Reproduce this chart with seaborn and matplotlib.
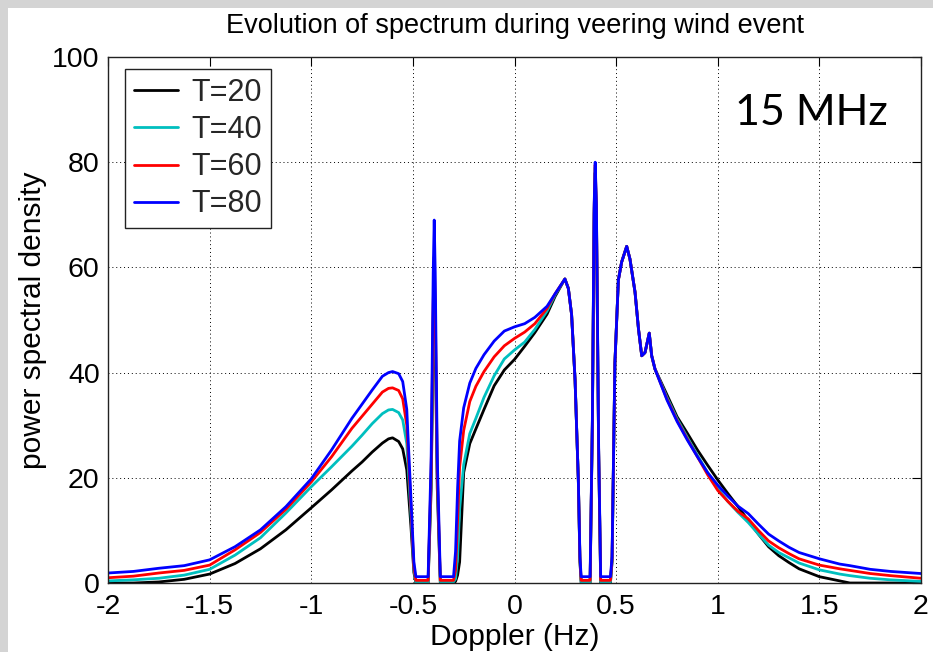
import matplotlib
matplotlib.use("Agg")
import matplotlib.pyplot as plt
from matplotlib.patches import Rectangle
from matplotlib.lines import Line2D
import numpy as np
import pandas as pd
import seaborn as sns

# ---------------- data ----------------
doppler = [-2.0, -1.875, -1.75, -1.625, -1.5, -1.375, -1.25, -1.125, -1.0, -0.9,
           -0.8, -0.75, -0.7, -0.65, -0.62, -0.6, -0.57, -0.55, -0.53, -0.51,
           -0.495, -0.485,
           -0.425, -0.41, -0.40, -0.395, -0.39, -0.38, -0.365, -0.30, -0.29, -0.28,
           -0.27, -0.25, -0.22, -0.19, -0.15, -0.10, -0.05, 0.0, 0.05, 0.10,
           0.16, 0.20, 0.248, 0.265, 0.281, 0.298, 0.314, 0.322, 0.328, 0.372,
           0.383, 0.392, 0.397, 0.403, 0.414, 0.424, 0.472, 0.480, 0.494, 0.511,
           0.527, 0.552, 0.568, 0.593, 0.610, 0.626, 0.642, 0.663, 0.675, 0.691,
           0.75, 0.8, 0.85, 0.9, 0.95, 1.0, 1.05, 1.1, 1.15, 1.2,
           1.25, 1.3, 1.35, 1.4, 1.5, 1.6, 1.65, 1.75, 1.85, 2.0]

psd_T20 = [0.0, 0.0, 0.2, 0.7, 1.7, 3.7, 6.5, 10.1, 14.3, 17.7,
           21.3, 23.0, 24.9, 26.6, 27.4, 27.6, 26.9, 25.5, 21.5, 11.0,
           2.0, 0.0,
           0.0, 18.0, 46.0, 54.0, 46.0, 18.0, 0.0, 0.0, 0.3, 1.5,
           4.0, 21.0, 26.5, 29.3, 33.0, 37.5, 40.5, 42.5, 45.0, 47.6,
           51.1, 54.5, 57.8, 56.0, 51.0, 38.6, 19.6, 4.0, 0.0, 0.0,
           30.0, 70.0, 78.0, 70.0, 25.0, 0.0, 0.0, 4.0, 41.8, 57.6,
           61.0, 64.0, 61.6, 55.3, 48.3, 43.2, 43.8, 47.5, 43.2, 40.7,
           35.8, 31.6, 28.5, 25.3, 22.4, 19.6, 17.0, 14.5, 11.9, 9.3,
           6.9, 5.2, 3.9, 2.7, 1.2, 0.4, 0.0, 0.0, 0.0, 0.0]

psd_T40 = [0.4, 0.6, 0.9, 1.5, 2.6, 5.3, 8.6, 13.3, 18.3, 22.1,
           26.0, 28.1, 30.3, 32.2, 32.9, 33.0, 32.4, 31.0, 26.5, 13.5,
           2.5, 0.2,
           0.2, 20.0, 50.0, 59.0, 50.0, 20.0, 0.2, 0.2, 0.8, 5.0,
           14.0, 22.5, 28.4, 31.3, 35.3, 39.4, 42.6, 44.3, 45.8, 48.2,
           51.7, 54.8, 57.8, 56.0, 51.0, 38.6, 19.6, 4.2, 0.2, 0.2,
           30.0, 71.0, 79.0, 71.0, 25.0, 0.2, 0.2, 4.2, 41.8, 57.6,
           61.0, 64.0, 61.6, 55.3, 48.3, 43.2, 43.8, 47.5, 43.2, 40.7,
           35.3, 31.2, 27.7, 24.3, 21.0, 18.0, 15.5, 13.4, 11.5, 9.3,
           7.2, 5.8, 4.8, 3.8, 2.5, 1.7, 1.4, 0.9, 0.6, 0.3]

psd_T60 = [1.0, 1.3, 1.9, 2.4, 3.4, 6.3, 9.6, 14.0, 19.2, 24.0,
           29.4, 31.7, 34.0, 36.3, 37.0, 37.1, 36.6, 35.0, 30.0, 15.0,
           3.0, 0.5,
           0.5, 21.0, 53.0, 62.0, 53.0, 21.0, 0.5, 0.5, 2.5, 12.0,
           22.0, 29.0, 34.5, 37.4, 40.2, 43.0, 45.1, 46.5, 47.7, 49.3,
           52.2, 55.0, 57.8, 56.0, 51.0, 38.6, 19.6, 4.5, 0.5, 0.5,
           30.0, 71.5, 79.5, 71.5, 25.0, 0.5, 0.5, 4.5, 41.8, 57.6,
           61.0, 64.0, 61.6, 55.3, 48.3, 43.2, 43.8, 47.5, 43.2, 40.7,
           35.0, 30.9, 27.4, 24.0, 20.6, 17.6, 15.5, 13.6, 12.2, 10.0,
           8.0, 6.7, 5.6, 4.6, 3.4, 2.7, 2.4, 1.8, 1.4, 0.9]

psd_T80 = [1.9, 2.2, 2.8, 3.3, 4.4, 6.9, 10.1, 14.5, 19.8, 25.3,
           31.3, 34.0, 36.7, 39.3, 40.0, 40.2, 39.8, 38.3, 33.0, 16.5,
           4.0, 1.2,
           1.2, 24.0, 59.0, 69.0, 59.0, 24.0, 1.2, 1.2, 6.0, 18.0,
           27.0, 33.3, 38.0, 40.8, 43.4, 46.0, 47.9, 48.7, 49.3, 50.5,
           52.6, 55.0, 57.8, 56.0, 51.0, 38.6, 19.6, 5.0, 1.2, 1.2,
           31.0, 72.0, 80.0, 72.0, 26.0, 1.2, 1.2, 5.0, 41.8, 57.6,
           61.0, 64.0, 61.6, 55.3, 48.3, 43.2, 43.8, 47.5, 43.2, 40.7,
           34.8, 30.7, 27.2, 24.0, 21.0, 18.6, 16.5, 14.6, 13.2, 11.2,
           9.3, 8.0, 6.8, 5.8, 4.6, 3.6, 3.3, 2.6, 2.2, 1.8]

series_names = ["T=20", "T=40", "T=60", "T=80"]
series_colors = ["#000000", "#00BFBF", "#FF0000", "#0000FF"]
x_ticks = [-2, -1.5, -1, -0.5, 0, 0.5, 1, 1.5, 2]
x_tick_labels = ["-2", "-1.5", "-1", "-0.5", "0", "0.5", "1", "1.5", "2"]
y_ticks = [0, 20, 40, 60, 80, 100]
y_tick_labels = ["0", "20", "40", "60", "80", "100"]

# ---------------- styling ----------------
sns.set_style("white")
plt.rcParams["font.family"] = ["Liberation Sans", "DejaVu Sans"]
plt.rcParams["axes.unicode_minus"] = False

W, H = 933, 652
fig = plt.figure(figsize=(W / 100, H / 100), dpi=100)
fig.patch.set_facecolor("white")

# grey screenshot frame (top and left)
frame_col = "#d4d4d4"
fig.add_artist(Rectangle((0, 1 - 8 / H), 1, 8 / H, transform=fig.transFigure,
                         facecolor=frame_col, edgecolor="none", zorder=-5))
fig.add_artist(Rectangle((0, 0), 8 / W, 1, transform=fig.transFigure,
                         facecolor=frame_col, edgecolor="none", zorder=-5))

ax = fig.add_axes([108 / W, (H - 583) / H, 813 / W, 526 / H])

all_series = [psd_T20, psd_T40, psd_T60, psd_T80]
df = pd.concat(
    [pd.DataFrame({"Doppler": doppler, "psd": vals, "series": name})
     for name, vals in zip(series_names, all_series)],
    ignore_index=True)

sns.lineplot(data=df, x="Doppler", y="psd", hue="series",
             hue_order=series_names, palette=dict(zip(series_names, series_colors)),
             estimator=None, sort=False, linewidth=2.0, ax=ax, legend=False)

ax.set_xlim(-2, 2)
ax.set_ylim(0, 100)
ax.set_xticks(x_ticks)
ax.set_xticklabels(x_tick_labels)
ax.set_yticks(y_ticks)
ax.set_yticklabels(y_tick_labels)

ax.set_axisbelow(True)
ax.grid(True, color="k", linestyle=(0, (1, 3)), linewidth=0.7)

ax.tick_params(axis="both", direction="in", length=6.5, width=0.8,
               top=True, right=True, labelsize=20.5, colors="k")
ax.tick_params(axis="x", pad=8)
ax.tick_params(axis="y", pad=6)
for s in ax.spines.values():
    s.set_linewidth(1.0)
    s.set_color("#222222")

ax.set_xlabel("Doppler (Hz)", fontsize=21.5, labelpad=2, color="k")
ax.set_ylabel("power spectral density", fontsize=21.5, labelpad=4, color="k")
ax.set_title("Evolution of spectrum during veering wind event", fontsize=19.5,
             pad=17, color="k")

handles = [Line2D([0], [0], color=c, lw=2.0) for c in series_colors]
leg = ax.legend(handles, series_names, loc="upper left",
                bbox_to_anchor=((125 - 108) / 813, (583 - 69) / 526),
                borderaxespad=0, fontsize=22, frameon=True, fancybox=False,
                framealpha=1, edgecolor="#222222", handlelength=1.45,
                handletextpad=0.42, labelspacing=0.23, borderpad=0.3)
leg.get_frame().set_linewidth(1.0)

ax.text((735 - 108) / 813, (583 - 125) / 526, "15 MHz", transform=ax.transAxes,
        ha="left", va="baseline", fontsize=31, color="k",
        family=["Lato", "DejaVu Sans"])

fig.savefig("out.png", dpi=100)
